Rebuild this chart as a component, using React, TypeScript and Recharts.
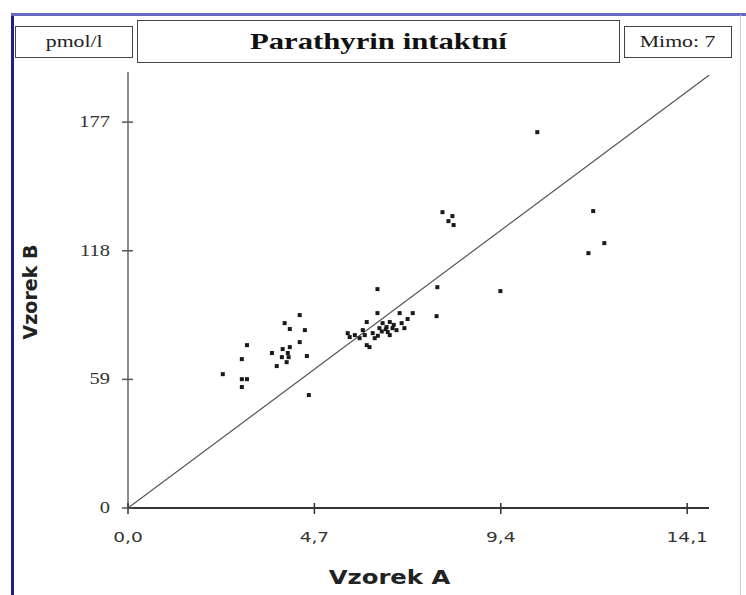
import React from 'react';
import {
  ScatterChart,
  Scatter,
  XAxis,
  YAxis,
  ReferenceLine
} from 'recharts';

// Vzorek A (x) and Vzorek B (y)
const vzorekA = [
  4.33, 3.95, 4.08, 4.46, 4.33, 3.0, 4.08, 3.9, 3.63, 4.03, 3.88, 4.05, 4.51, 2.87, 4.0, 3.75,
  2.39, 2.87, 3.0, 2.87, 4.56,
  6.29, 7.8, 6.29, 6.85, 7.18, 7.78, 6.02, 7.05, 6.42, 6.6, 6.52, 6.67, 6.34, 6.77, 6.55,
  5.54, 5.72, 5.92, 5.97, 6.17, 6.22, 5.84, 6.02, 6.09, 6.9, 6.97, 6.6, 5.59, 6.4, 6.5, 6.7, 6.3,
  10.32, 7.93, 8.18, 8.08, 8.21, 11.73, 12.01, 11.61, 9.39
];
const vzorekB = [
  88.5, 84.8, 82.1, 81.6, 76.1, 74.7, 73.8, 72.9, 71.1, 71.1, 69.2, 69.2, 69.7, 68.3, 66.9, 65.1,
  61.4, 59.1, 59.1, 55.5, 51.8,
  100.4, 101.3, 89.4, 89.4, 89.4, 88.0, 85.3, 86.7, 84.8, 85.3, 83.0, 82.5, 82.5, 81.6, 80.7,
  80.2, 79.3, 81.6, 79.3, 80.2, 77.9, 77.9, 74.7, 73.8, 84.8, 82.5, 79.3, 78.4, 81.0, 82.0, 84.0, 79.0,
  172.4, 135.7, 133.9, 131.6, 129.8, 136.2, 121.5, 116.9, 99.5
];
const xTicks = [0, 4.7, 9.4, 14.1];
const yTicks = [0, 59, 118, 177];

const data = vzorekA.map((a, i) => ({ a, b: vzorekB[i] }));

const SX = 1.28;

const XTick = (props: any) => {
  const { x, y, payload } = props;
  return (
    <g>
      <line x1={x} x2={x} y1={y - 5} y2={y + 6} stroke="#333" strokeWidth={1.5} />
      <text
        transform={`translate(${x},${y + 34}) scale(${SX},1)`}
        textAnchor="middle"
        fontFamily="DejaVu Sans"
        fontSize={14.5}
        fill="#333"
      >
        {payload.value.toFixed(1).replace('.', ',')}
      </text>
    </g>
  );
};

const YTick = (props: any) => {
  const { x, y, payload } = props;
  return (
    <g>
      <line x1={x - 6} x2={x + 5} y1={y} y2={y} stroke="#555" strokeWidth={1.5} />
      <text
        transform={`translate(${x - 18},${y + 5}) scale(${SX},1)`}
        textAnchor="end"
        fontFamily="Liberation Serif"
        fontSize={16}
        fill="#333"
      >
        {payload.value}
      </text>
    </g>
  );
};

const Dot = (props: any) => (
  <rect x={props.cx - 2} y={props.cy - 2} width={4} height={4} fill="#1a1a1a" />
);

const box = (left: number, top: number, width: number, height: number): React.CSSProperties => ({
  position: 'absolute',
  left,
  top,
  width,
  height,
  border: '1.5px solid #444',
  boxSizing: 'border-box',
  background: '#fff',
  display: 'flex',
  alignItems: 'center',
  justifyContent: 'center'
});

const stretch: React.CSSProperties = { display: 'inline-block', transform: `scaleX(${SX})` };

const App = () => {
  return (
    <div style={{ position: 'absolute', left: 0, top: 0, width: 746, height: 595, background: '#fff', overflow: 'hidden' }}>
      <div style={{ position: 'absolute', left: 11, top: 13, width: 2.5, height: 582, background: '#1f1f8f' }} />
      <div style={{ position: 'absolute', left: 11, top: 13, width: 735, height: 2.5, background: '#6a6ac4' }} />
      <div style={{ position: 'absolute', left: 740, top: 15, width: 1, height: 580, background: '#ccc' }} />

      <div style={box(15, 26, 118, 32)}>
        <span style={{ ...stretch, fontFamily: 'Liberation Serif', fontSize: 17, color: '#222' }}>pmol/l</span>
      </div>
      <div style={box(137, 20, 483, 43)}>
        <span style={{ ...stretch, fontFamily: 'Liberation Serif', fontWeight: 'bold', fontSize: 24, color: '#111' }}>
          Parathyrin intaktní
        </span>
      </div>
      <div style={box(624, 26, 108, 32)}>
        <span style={{ ...stretch, fontFamily: 'Liberation Serif', fontSize: 17, color: '#222' }}>Mimo: 7</span>
      </div>

      <div style={{ position: 'absolute', left: 0, top: 0 }}>
        <ScatterChart width={746} height={595} margin={{ top: 72, right: 37, bottom: 47, left: 68 }}>
          <XAxis
            type="number"
            dataKey="a"
            domain={[0, 14.65]}
            ticks={xTicks}
            height={40}
            tick={<XTick />}
            tickLine={false}
            tickSize={0}
            tickMargin={0}
            axisLine={{ stroke: '#333', strokeWidth: 2 }}
          />
          <YAxis
            type="number"
            dataKey="b"
            domain={[0, 200]}
            ticks={yTicks}
            width={60}
            tick={<YTick />}
            tickLine={false}
            tickSize={0}
            tickMargin={0}
            axisLine={{ stroke: '#666', strokeWidth: 1.5 }}
          />
          <ReferenceLine
            segment={[{ x: 0, y: 0 }, { x: 14.65, y: 198.5 }]}
            stroke="#555"
            strokeWidth={1.2}
          />
          <Scatter data={data} shape={<Dot />} isAnimationActive={false} />
        </ScatterChart>
      </div>

      <div style={{ position: 'absolute', left: 290, top: 566, width: 200, textAlign: 'center' }}>
        <span style={{ ...stretch, fontFamily: 'DejaVu Sans', fontWeight: 'bold', fontSize: 19, color: '#222' }}>Vzorek A</span>
      </div>
      <div
        style={{
          position: 'absolute',
          left: 30,
          top: 292,
          transform: 'translate(-50%, -50%) rotate(-90deg)',
          whiteSpace: 'nowrap',
          fontFamily: 'DejaVu Sans',
          fontWeight: 'bold',
          fontSize: 19,
          color: '#222'
        }}
      >
        Vzorek B
      </div>
    </div>
  );
};

export default App;
